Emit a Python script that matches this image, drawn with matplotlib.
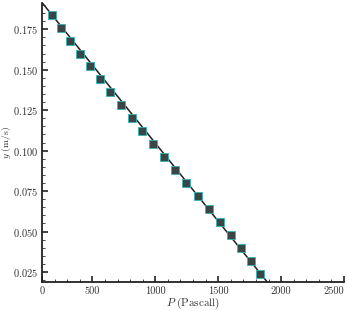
import matplotlib
matplotlib.use("Agg")
import matplotlib.pyplot as plt
from matplotlib.ticker import MultipleLocator

# measured points (pressure in Pa, velocity in m/s)
pressure = [178, 252, 325, 400, 482, 563, 643, 729, 812, 897, 983,
            1070, 1160, 1243, 1343, 1425, 1512, 1600, 1678, 1760, 1836]
velocity = [0.184, 0.176, 0.168, 0.160, 0.152, 0.144, 0.136, 0.128, 0.120,
            0.112, 0.104, 0.096, 0.088, 0.080, 0.072, 0.064, 0.056, 0.048,
            0.040, 0.032, 0.024]

# straight fit line end points
fit_p = [100, 1900]
fit_y = [0.1915, 0.0178]

x_ticks = [100, 500, 1000, 1500, 2000, 2500]
x_tick_labels = ["0", "500", "1000", "1500", "2000", "2500"]

plt.rcParams["font.family"] = "cmr10"
plt.rcParams["mathtext.fontset"] = "cm"
plt.rcParams["axes.formatter.use_mathtext"] = True

TXT = "#333333"


def plot():
    fig = plt.figure(figsize=(3.48, 3.11), dpi=100)
    ax = fig.add_axes([0.1207, 0.0932, 0.868, 0.897])

    ax.plot(fit_p, fit_y, color="#222222", lw=1.1, zorder=2)
    ax.plot(pressure, velocity, ls="none", marker="s", ms=5.4,
            mfc="#3a4646", mec="#35b5b5", mew=0.6, zorder=3)

    ax.set_xlim(100, 2500)
    ax.set_ylim(0.0188, 0.1912)

    ax.set_xticks(x_ticks)
    ax.set_xticklabels(x_tick_labels)
    ax.get_xticklabels()[-1].set_horizontalalignment("right")
    ax.xaxis.set_minor_locator(MultipleLocator(100))
    ax.yaxis.set_major_locator(MultipleLocator(0.025))
    ax.yaxis.set_minor_locator(MultipleLocator(0.005))

    for s in ["top", "right"]:
        ax.spines[s].set_visible(False)
    for s in ["left", "bottom"]:
        ax.spines[s].set_linewidth(1.3)
        ax.spines[s].set_color("#222222")

    ax.tick_params(which="major", direction="in", length=4, width=1.2,
                   color="#222222", labelsize=7.5, labelcolor=TXT, pad=3)
    ax.tick_params(which="minor", direction="in", length=2.2, width=0.7,
                   color="#444444")

    ax.set_xlabel(r"$P\ \mathrm{(Pascall)}$", fontsize=8, color=TXT)
    ax.set_ylabel(r"$y\ \mathrm{(m/s)}$", fontsize=7, color=TXT)
    ax.xaxis.set_label_coords(0.5, -0.05)
    ax.yaxis.set_label_coords(-0.097, 0.5)

    fig.savefig("out.png", dpi=100)


if __name__ == "__main__":
    plot()
